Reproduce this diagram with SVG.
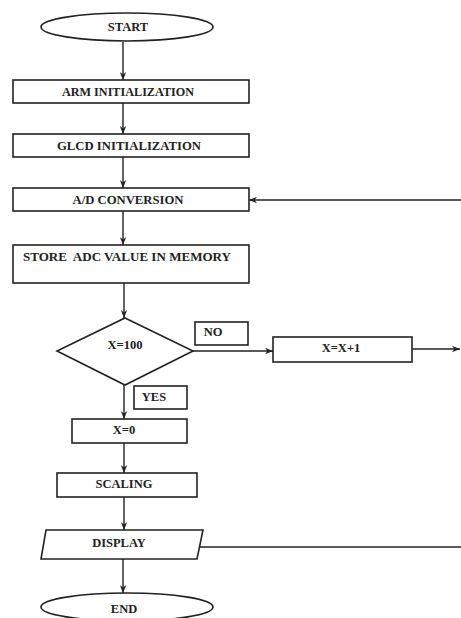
<svg xmlns="http://www.w3.org/2000/svg" width="461" height="618" viewBox="0 0 461 618">
<style>
.s{fill:#fff;stroke:#222;stroke-width:1.6}
.c{fill:none;stroke:#222;stroke-width:1.4}
.t{font-family:"Liberation Serif","Times New Roman",serif;font-weight:bold;font-size:12.5px;fill:#222;text-anchor:middle;dominant-baseline:central}
</style>
<defs>
<marker id="a" viewBox="0 0 10 8" refX="10" refY="4" markerWidth="8" markerHeight="7" markerUnits="userSpaceOnUse" orient="auto">
<path d="M0,0 L10,4 L0,8 L3,4 Z" fill="#222"/>
</marker>
</defs>
<rect width="461" height="618" fill="#fff"/>
<g id="connectors">
<line class="c" x1="123" y1="42" x2="123" y2="80" marker-end="url(#a)"/>
<line class="c" x1="123" y1="103" x2="123" y2="134" marker-end="url(#a)"/>
<line class="c" x1="123" y1="157" x2="123" y2="188" marker-end="url(#a)"/>
<line class="c" x1="123" y1="211" x2="123" y2="245" marker-end="url(#a)"/>
<line class="c" x1="124" y1="283" x2="124" y2="318" marker-end="url(#a)"/>
<line class="c" x1="124" y1="385" x2="124" y2="419" marker-end="url(#a)"/>
<line class="c" x1="124" y1="443" x2="124" y2="473" marker-end="url(#a)"/>
<line class="c" x1="124" y1="497" x2="124" y2="530" marker-end="url(#a)"/>
<line class="c" x1="123" y1="559" x2="123" y2="593" marker-end="url(#a)"/>
<line class="c" x1="193" y1="351" x2="273" y2="351" marker-end="url(#a)"/>
<line class="c" x1="412" y1="349" x2="460" y2="349" marker-end="url(#a)"/>
<line class="c" x1="461" y1="200" x2="249" y2="200" marker-end="url(#a)"/>
<line class="c" x1="199" y1="547" x2="461" y2="547"/>
</g>
<g id="start"><ellipse class="s" cx="127" cy="27" rx="86" ry="14"/><text class="t" x="128" y="27">START</text></g>
<g id="arm"><rect class="s" x="13" y="80" width="236" height="23"/><text class="t" x="128" y="91.5" textLength="132" lengthAdjust="spacingAndGlyphs">ARM INITIALIZATION</text></g>
<g id="glcd"><rect class="s" x="13" y="134" width="236" height="23"/><text class="t" x="129" y="145.5" textLength="144" lengthAdjust="spacingAndGlyphs">GLCD INITIALIZATION</text></g>
<g id="adc"><rect class="s" x="13" y="188" width="236" height="23"/><text class="t" x="128" y="199.5" textLength="111" lengthAdjust="spacingAndGlyphs">A/D CONVERSION</text></g>
<g id="store"><rect class="s" x="13" y="245" width="236" height="38"/><text class="t" x="127" y="257" textLength="208" lengthAdjust="spacingAndGlyphs" xml:space="preserve">STORE  ADC VALUE IN MEMORY</text></g>
<g id="decision"><polygon class="s" points="125,318 193,351 125,385 57,351"/><text class="t" x="125" y="345">X=100</text></g>
<g id="no"><rect class="s" x="195" y="322" width="53" height="23"/><text class="t" x="213" y="332">NO</text></g>
<g id="yes"><rect class="s" x="134" y="386" width="53" height="23"/><text class="t" x="154" y="397">YES</text></g>
<g id="inc"><rect class="s" x="273" y="337" width="139" height="25"/><text class="t" x="341" y="348">X=X+1</text></g>
<g id="zero"><rect class="s" x="72" y="419" width="115" height="24"/><text class="t" x="124" y="430">X=0</text></g>
<g id="scaling"><rect class="s" x="57" y="473" width="140" height="24"/><text class="t" x="124" y="484">SCALING</text></g>
<g id="display"><polygon class="s" points="46,530 203,530 197,559 41,559"/><text class="t" x="119" y="543">DISPLAY</text></g>
<g id="end"><ellipse class="s" cx="127" cy="607" rx="86" ry="14"/><text class="t" x="124" y="609">END</text></g>
</svg>
